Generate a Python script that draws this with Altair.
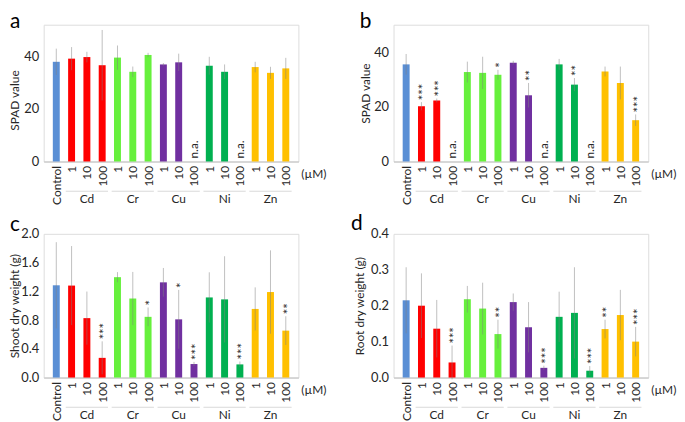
import altair as alt
import pandas as pd

# ---------------- data ----------------
labels = ["Control", "1", "10", "100", "1", "10", "100", "1", "10", "100",
          "1", "10", "100", "1", "10", "100"]
groups = ["Cd", "Cr", "Cu", "Ni", "Zn"]
group_centers = [2, 5, 8, 11, 14]
bar_colors = ["#5A8FD5",
              "#FF0000", "#FF0000", "#FF0000",
              "#66F03C", "#66F03C", "#66F03C",
              "#7030A0", "#7030A0", "#7030A0",
              "#00B050", "#00B050", "#00B050",
              "#FFC000", "#FFC000", "#FFC000"]

spad_a = [37.9, 39.1, 39.7, 36.6, 39.5, 34.1, 40.5, 36.9, 37.7, None, 36.4, 34.1, None, 35.9, 33.7, 35.4]
sd_a = [5.0, 4.4, 2.0, 13.4, 4.6, 2.0, 0.8, 0.5, 3.3, None, 3.4, 2.8, None, 2.0, 2.3, 4.0]
stars_a = [""] * 16

spad_b = [35.5, 20.2, 22.3, None, 32.7, 32.4, 31.7, 36.1, 24.2, None, 35.5, 28.1, None, 32.9, 28.7, 15.1]
sd_b = [3.8, 1.5, 0.7, None, 3.8, 5.9, 1.8, 0.7, 4.5, None, 2.0, 2.4, None, 1.8, 6.0, 2.1]
stars_b = ["", "***", "***", "", "", "", "*", "", "**", "", "", "**", "", "", "", "***"]

shoot_c = [1.284, 1.28, 0.827, 0.274, 1.397, 1.10, 0.845, 1.325, 0.81, 0.188, 1.115, 1.088, 0.183, 0.955, 1.19, 0.653]
sd_c = [0.60, 0.55, 0.37, 0.23, 0.07, 0.37, 0.13, 0.20, 0.41, 0.03, 0.35, 0.60, 0.04, 0.30, 0.58, 0.20]
stars_c = ["", "", "", "***", "", "", "*", "", "*", "***", "", "", "***", "", "", "**"]

root_d = [0.215, 0.200, 0.136, 0.042, 0.218, 0.192, 0.121, 0.210, 0.140, 0.027, 0.169, 0.180, 0.019, 0.135, 0.174, 0.100]
sd_d = [0.092, 0.090, 0.080, 0.047, 0.037, 0.072, 0.040, 0.024, 0.070, 0.006, 0.070, 0.127, 0.013, 0.026, 0.070, 0.041]
stars_d = ["", "", "", "***", "", "", "**", "", "", "***", "", "", "***", "**", "", "***"]

FONT = "Lato"
W = 257
TXT = "#262626"


def panel(letter, means, sds, stars, ytitle, ymax, yticks, yfmt, h,
          title_x, title_y=None, letter_x=-34, letter_y=3):
    rows = []
    for i in range(len(means)):
        m = means[i]
        s = sds[i]
        rows.append(dict(i=i, m=m,
                         lo=None if m is None else m - s,
                         hi=None if m is None else m + s,
                         base=0, star=stars[i], col=bar_colors[i]))
    df = pd.DataFrame(rows)
    gdf = pd.DataFrame(dict(g=groups, c=group_centers,
                            x1=[c - 1.38 for c in group_centers],
                            x2=[c + 1.38 for c in group_centers]))

    expr = "[" + ",".join("'%s'" % l for l in labels) + "][datum.value]"
    xs = alt.Scale(domain=[-0.5, 15.5], nice=False, zero=False)
    xa = alt.Axis(values=list(range(16)), labelExpr=expr, labelAngle=270,
                  ticks=False, grid=False, domainColor="#bfbfbf", title=None,
                  labelFontSize=12, labelPadding=4, labelOverlap=False,
                  labelFlush=False, labelColor=TXT, labelFont=FONT)
    ys = alt.Scale(domain=[0, ymax], nice=False, zero=True)
    ya_kw = dict(values=yticks, format=yfmt, ticks=False, grid=False,
                 domain=False, title=ytitle, titleX=title_x,
                 labelFontSize=13, titleFontSize=12, titleFontWeight="normal",
                 labelPadding=5, labelColor=TXT, titleColor=TXT,
                 labelFont=FONT, titleFont=FONT)
    if title_y is not None:
        ya_kw["titleY"] = title_y
    ya = alt.Axis(**ya_kw)

    def X(f):
        return alt.X(f, scale=xs, axis=xa)

    def Y(f):
        return alt.Y(f, scale=ys, axis=ya)

    base = alt.Chart(df)
    valid = base.transform_filter("datum.m != null")
    bars = valid.mark_bar(size=7).encode(
        x=X("i:Q"), y=Y("m:Q"), color=alt.Color("col:N", scale=None))
    err = valid.mark_rule(color="#7f7f7f", opacity=0.5, strokeWidth=1).encode(
        x=X("i:Q"), y=Y("lo:Q"), y2="hi:Q")
    st = valid.transform_filter("datum.star != ''").mark_text(
        angle=270, align="left", baseline="middle", dx=2, dy=3,
        fontSize=13, font=FONT, color=TXT).encode(
        x=X("i:Q"), y=Y("hi:Q"), text="star:N")
    na = base.transform_filter("datum.m == null").mark_text(
        angle=270, align="left", baseline="middle", dx=3,
        fontSize=12, font=FONT, color=TXT).encode(
        x=X("i:Q"), y=Y("base:Q"), text=alt.value("n.a."))
    gl = alt.Chart(gdf).mark_rule(color="#d9d9d9", strokeWidth=1).encode(
        x=X("x1:Q"), x2="x2:Q", y=alt.value(h + 30))
    gt = alt.Chart(gdf).mark_text(fontSize=12, font=FONT, color=TXT,
                                  baseline="middle").encode(
        x=X("c:Q"), y=alt.value(h + 38), text="g:N")
    um = alt.Chart(pd.DataFrame(dict(t=["(µM)"]))).mark_text(
        align="left", baseline="middle", fontSize=12, font=FONT,
        color=TXT).encode(x=alt.value(W + 3), y=alt.value(h + 13), text="t:N")
    lt = alt.Chart(pd.DataFrame(dict(t=[letter]))).mark_text(
        align="left", baseline="alphabetic", fontSize=21, font=FONT,
        color="#000").encode(x=alt.value(letter_x), y=alt.value(letter_y),
                             text="t:N")
    return alt.layer(bars, err, st, na, gl, gt, um, lt).properties(
        width=W, height=h)


pa = panel("a", spad_a, sd_a, stars_a, "SPAD value", 52, [0, 20, 40], "d",
           138, -22, title_y=76)
pb = panel("b", spad_b, sd_b, stars_b, "SPAD value", 50, [0, 20, 40], "d",
           138, -21, letter_x=-34)
pc = panel("c", shoot_c, sd_c, stars_c, "Shoot dry weight (g)", 2.0,
           [0, 0.4, 0.8, 1.2, 1.6, 2.0], ".1f", 145, -22, letter_y=-3)
pd_ = panel("d", root_d, sd_d, stars_d, "Root dry weight (g)", 0.4,
            [0, 0.1, 0.2, 0.3, 0.4], ".1f", 145, -27, letter_x=-43,
            letter_y=-4)

chart = alt.concat(pa, pb, pc, pd_, columns=2, bounds="flush",
                   spacing=alt.RowColnumber(row=73, column=96)).properties(
    padding=0).configure_view(stroke="#d9d9d9", strokeWidth=1).configure(
    font=FONT)

chart.save("out.html", embed_options={"renderer": "svg", "actions": False})
